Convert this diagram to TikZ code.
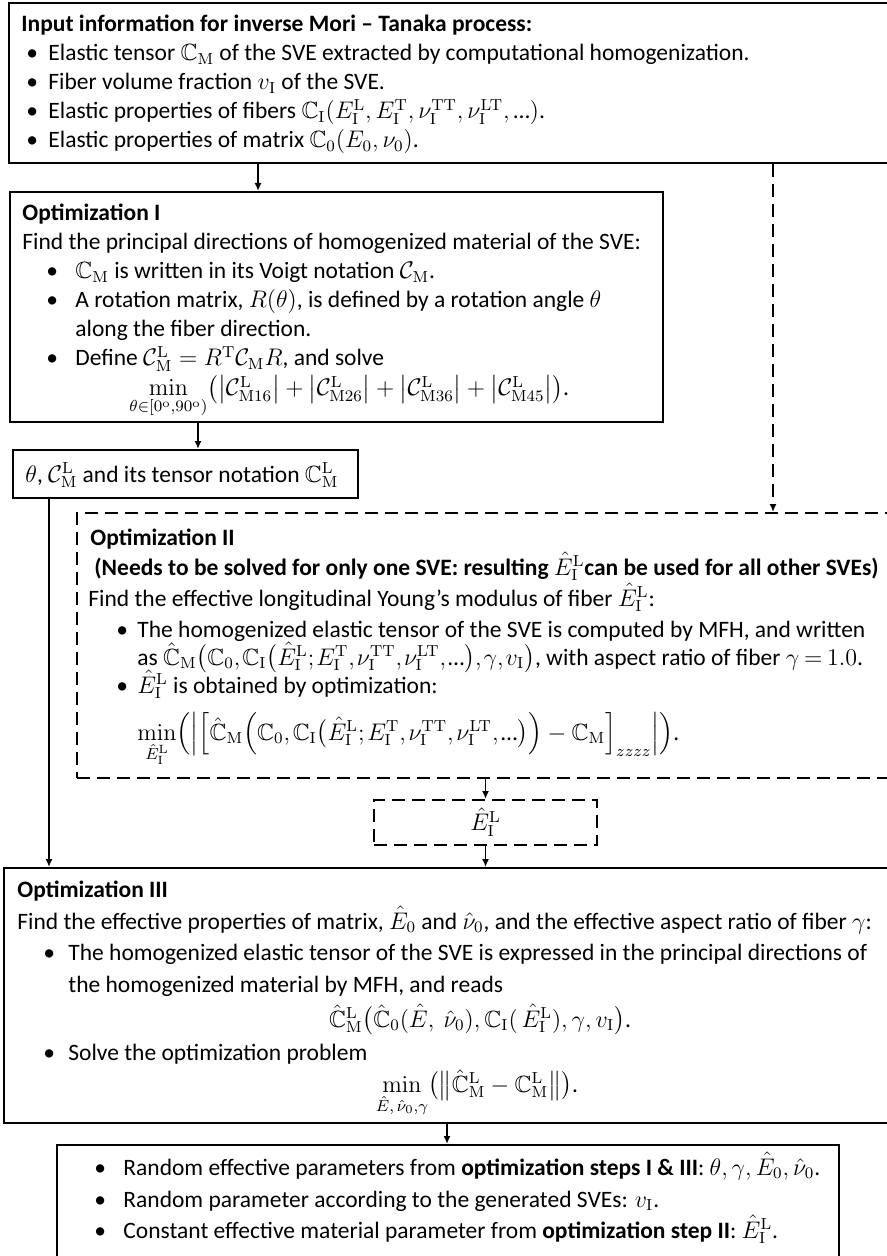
\documentclass[tikz,border=0pt]{standalone}
\usepackage{amsmath,amssymb}
\usepackage[no-math]{fontspec}
\setmainfont{Carlito}
\usetikzlibrary{arrows.meta,fit}
\newcommand{\bbC}{\mathbb{C}}
\newcommand{\calC}{\mathcal{C}}
\newcommand{\rmM}{\mathrm{M}}
\newcommand{\rmI}{\mathrm{I}}
\newcommand{\sL}{\mathrm{L}}
\newcommand{\sT}{\mathrm{T}}
\newcommand{\dts}{\text{…}}
\newcommand{\EhIL}{\hat{E}^{\mathrm{L}}_{\mathrm{I}}}
\newcommand{\fsz}{\fontsize{11.75}{14}\selectfont}
\begin{document}
\begin{tikzpicture}[x=0.5pt,y=-0.5pt,
  sbox/.style={draw, line width=1pt, inner sep=0pt, rectangle},
  dbox/.style={draw, line width=1pt, inner sep=0pt, rectangle, dash pattern=on 6.5pt off 3.5pt},
  t/.style={anchor=base west, inner sep=0pt, font=\fsz},
  tb/.style={anchor=base west, inner sep=0pt, font=\fsz\bfseries},
  tc/.style={anchor=base, inner sep=0pt, font=\fsz},
  arr/.style={-{Latex[length=4pt,width=3.5pt]}, line width=0.8pt},
  darr/.style={arr, dash pattern=on 6.5pt off 3.5pt}]
\useasboundingbox (0,0) rectangle (887,1256);
\fill[white] (0,0) rectangle (887,1256);

% ---------- Box 1: input ----------
\node[sbox, fit={(9,3) (895,163)}] (b1) {};
\node[tb] (b1t) at (21,32) {Input information for inverse Mori – Tanaka process:};
\node[t] (b1a) at (26,61) {\textbullet};
\node[t] (b1at) at (48,61) {Elastic tensor $\bbC_\rmM$ of the SVE extracted by computational homogenization.};
\node[t] (b1b) at (26,90) {\textbullet};
\node[t] (b1bt) at (48,90) {Fiber volume fraction $v_\rmI$ of the SVE.};
\node[t] (b1c) at (26,119) {\textbullet};
\node[t] (b1ct) at (48,119) {Elastic properties of fibers $\bbC_\rmI(E^\sL_\rmI, E^\sT_\rmI, \nu^{\mathrm{TT}}_\rmI, \nu^{\mathrm{LT}}_\rmI, \dts)$.};
\node[t] (b1d) at (26,148) {\textbullet};
\node[t] (b1dt) at (48,148) {Elastic properties of matrix $\bbC_0(E_0, \nu_0)$.};

% ---------- Optimization I ----------
\node[sbox, fit={(10,192) (663,422)}] (o1) {};
\node[tb] (o1t) at (22,221) {Optimization I};
\node[t] (o1a) at (22,250) {Find the principal directions of homogenized material of the SVE:};
\node[t] (o1b) at (46,279) {\textbullet};
\node[t] (o1bt) at (75,279) {$\bbC_\rmM$ is written in its Voigt notation $\calC_\rmM$.};
\node[t] (o1c) at (46,308) {\textbullet};
\node[t] (o1ct) at (75,308) {A rotation matrix, $R(\theta)$, is defined by a rotation angle $\theta$};
\node[t] (o1ct2) at (75,337) {along the fiber direction.};
\node[t] (o1d) at (46,366) {\textbullet};
\node[t] (o1dt) at (75,366) {Define $\calC^\sL_\rmM = R^\sT\calC_\rmM R$, and solve};
\node[t] (o1e) at (129,396) {$\mathop{\mathrm{min}}\limits_{\theta\in[0^{\mathrm{o}},90^{\mathrm{o}})}\bigl(\bigl|\calC^\sL_{\rmM16}\bigr| + \bigl|\calC^\sL_{\rmM26}\bigr| + \bigl|\calC^\sL_{\rmM36}\bigr| + \bigl|\calC^\sL_{\rmM45}\bigr|\bigr)$.};

% ---------- theta box ----------
\node[sbox, fit={(13,450) (358,498)}] (th) {};
\node[t] (tht) at (25,482) {$\theta$, $\calC^\sL_\rmM$ and its tensor notation $\bbC^\sL_\rmM$};

% ---------- Optimization II ----------
\node[dbox, fit={(77,513) (895,778)}] (o2) {};
\node[tb] (o2t) at (90,545) {Optimization II};
\node[tb] (o2n) at (94,575) {(Needs to be solved for only one SVE: resulting $\EhIL$can be used for all other SVEs)};
\node[t] (o2a) at (88,606) {Find the effective longitudinal Young’s modulus of fiber $\EhIL$:};
\node[t] (o2b) at (116,637) {\textbullet};
\node[t] (o2bt) at (137,637) {The homogenized elastic tensor of the SVE is computed by MFH, and written};
\node[t] (o2bt2) at (137,665) {as $\thinmuskip=1.5mu\thickmuskip=3.5mu\hat\bbC_\rmM\bigl(\bbC_0, \bbC_\rmI\bigl(\EhIL; E^\sT_\rmI, \nu^{\mathrm{TT}}_\rmI, \nu^{\mathrm{LT}}_\rmI, \dts\bigr), \gamma, v_\rmI\bigr)$, with aspect ratio of fiber $\thickmuskip=3.5mu\gamma = 1.0$.};
\node[t] (o2c) at (116,693) {\textbullet};
\node[t] (o2ct) at (137,693) {$\EhIL$\ is obtained by optimization:};
\node[t] (o2d) at (137,740) {$\thinmuskip=2mu\min\limits_{\EhIL}\Bigl(\Bigl|\Bigl[\hat\bbC_\rmM\Bigl(\bbC_0, \bbC_\rmI\bigl(\EhIL; E^\sT_\rmI, \nu^{\mathrm{TT}}_\rmI, \nu^{\mathrm{LT}}_\rmI, \dts\bigr)\Bigr) - \bbC_\rmM\Bigr]_{zzzz}\Bigr|\Bigr)$.};

% ---------- E hat box ----------
\node[dbox, minimum width=111.5pt, minimum height=22.5pt, font=\fsz] (eb) at (485.5,822.5) {$\EhIL$};

% ---------- Optimization III ----------
\node[sbox, fit={(4,868) (895,1123)}] (o3) {};
\node[tb] (o3t) at (17,897) {Optimization III};
\node[t] (o3a) at (17,929) {Find the effective properties of matrix, $\hat E_0$ and $\hat\nu_0$, and the effective aspect ratio of fiber $\gamma$:};
\node[t] (o3b) at (43,960) {\textbullet};
\node[t] (o3bt) at (68,960) {The homogenized elastic tensor of the SVE is expressed in the principal directions of};
\node[t] (o3bt2) at (68,992) {the homogenized material by MFH, and reads};
\node[tc] (o3f) at (480,1027) {$\hat\bbC^\sL_\rmM\bigl(\hat\bbC_0(\hat E,\ \hat\nu_0), \bbC_\rmI(\,\EhIL), \gamma, v_\rmI\bigr)$.};
\node[t] (o3c) at (43,1060) {\textbullet};
\node[t] (o3ct) at (68,1060) {Solve the optimization problem};
\node[tc] (o3g) at (477,1092) {$\min\limits_{\hat E,\,\hat\nu_0,\gamma}\bigl(\bigl\|\hat\bbC^\sL_\rmM - \bbC^\sL_\rmM\bigr\|\bigr)$.};

% ---------- Final box ----------
\node[sbox, fit={(57,1145) (839,1259)}] (fin) {};
\node[t] (fa) at (94,1175) {\textbullet};
\node[t] (fat) at (123,1175) {Random effective parameters from \textbf{optimization steps I \& III}: $\theta, \gamma, \hat E_0, \hat\nu_0$.};
\node[t] (fb) at (94,1207) {\textbullet};
\node[t] (fbt) at (123,1207) {Random parameter according to the generated SVEs: $v_\rmI$.};
\node[t] (fc) at (94,1238) {\textbullet};
\node[t] (fct) at (123,1238) {Constant effective material parameter from \textbf{optimization step II}: $\EhIL$.};

% ---------- connectors ----------
\coordinate (xa) at (258,0);
\coordinate (xb) at (773,0);
\coordinate (xc) at (198,0);
\coordinate (xd) at (49,0);
\coordinate (xe) at (447,0);
\draw[arr] (b1.south -| xa) -- (o1.north -| xa);
\draw[darr] (b1.south -| xb) -- (o2.north -| xb);
\draw[arr] (o1.south -| xc) -- (th.north -| xc);
\draw[arr] (th.south -| xd) -- (o3.north -| xd);
\draw[arr] (o2.south -| eb.north) -- (eb.north);
\draw[arr] (eb.south) -- (o3.north -| eb.south);
\draw[arr] (o3.south -| xe) -- (fin.north -| xe);
\end{tikzpicture}
\end{document}
